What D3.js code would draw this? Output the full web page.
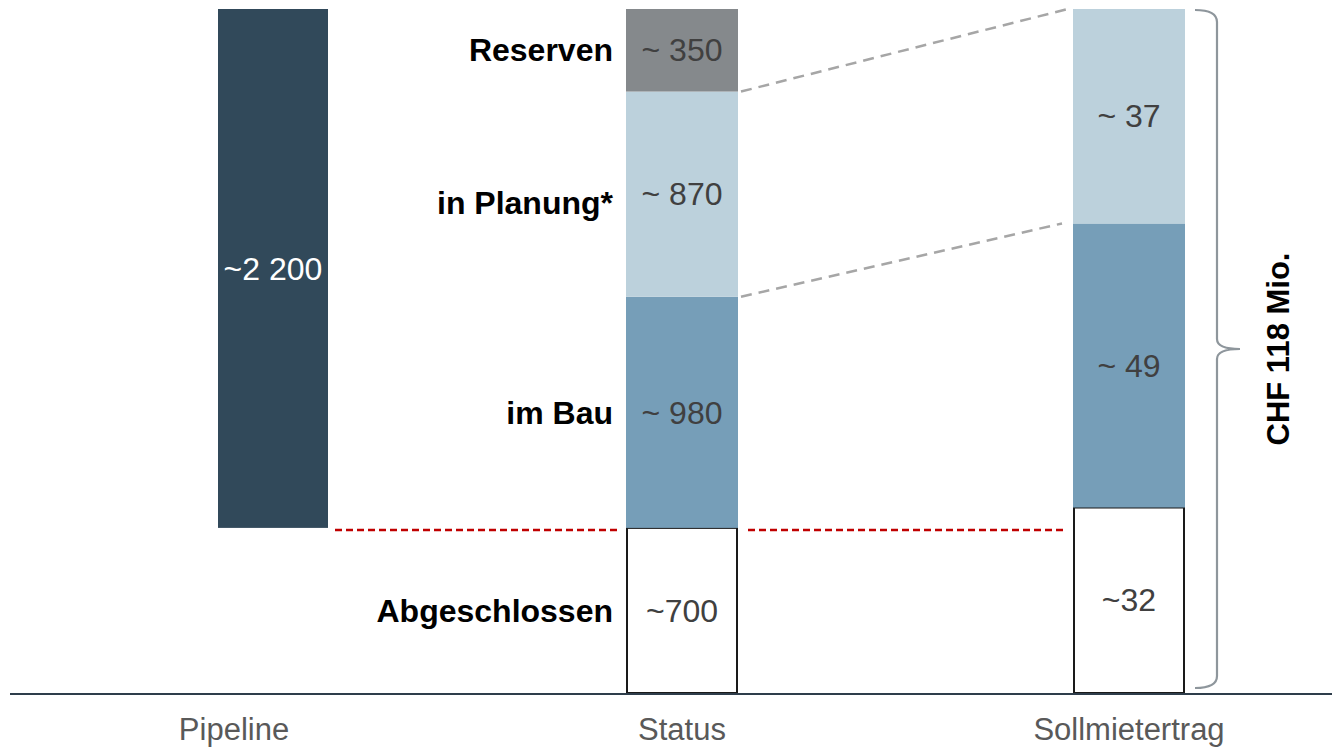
<!DOCTYPE html>
<html>
<head>
<meta charset="utf-8">
<script src="https://cdn.jsdelivr.net/npm/d3@7"></script>
<style>
  html, body { margin: 0; padding: 0; background: #fff; }
  svg { display: block; font-family: "Liberation Sans", Arial, sans-serif; }
</style>
</head>
<body>
<svg id="chart" width="1332" height="748"></svg>
<script>
// Column categories along the bottom
const categories = ["Pipeline", "Status", "Sollmietertrag"];

// Pipeline total (units)
const pipelineTotal = 2200;
const pipelineLabel = "~2 200";

// Status breakdown, bottom to top (units)
const statusNames  = ["Abgeschlossen", "im Bau", "in Planung*", "Reserven"];
const statusValues = [700, 980, 870, 350];
const statusLabels = ["~700", "~ 980", "~ 870", "~ 350"];

// Target rental income, bottom to top (CHF Mio.)
const rentValues = [32, 49, 37];
const rentLabels = ["~32", "~ 49", "~ 37"];
const rentTotalLabel = "CHF 118 Mio.";

// Colours per status segment
const statusFill = ["#ffffff", "#769eb8", "#bcd1dc", "#85898c"];
const rentFill   = ["#ffffff", "#769eb8", "#bcd1dc"];

const svg = d3.select("#chart");
const W = 1332, H = 748;
const baseY = 693, topY = 9;
const barW = 112;

// Horizontal placement of the three columns and their captions
const xBar = d3.scaleOrdinal().domain(categories).range([273, 682, 1129]);
const xCap = d3.scaleOrdinal().domain(categories).range([234, 682, 1129]);

// Vertical scales: status/pipeline in units, rent in CHF Mio.
const statusTotal = d3.sum(statusValues);
const rentTotal = d3.sum(rentValues);
const yS = d3.scaleLinear().domain([0, statusTotal]).range([baseY, topY]);
const yR = d3.scaleLinear().domain([0, rentTotal]).range([baseY, topY]);

// Stack helpers
function stack(values) {
  let acc = 0;
  return values.map((v, i) => { const s = { i, v, y0: acc, y1: acc + v }; acc += v; return s; });
}
const sStack = stack(statusValues);
const rStack = stack(rentValues);

// Pipeline bar: sits on top of the completed volume, reaching the full total
const completed = statusValues[0];
const pipeG = svg.append("g");
pipeG.append("rect")
  .attr("x", xBar("Pipeline") - barW / 2 + 1)
  .attr("width", barW - 2)
  .attr("y", yS(completed + pipelineTotal))
  .attr("height", yS(completed) - yS(completed + pipelineTotal))
  .attr("fill", "#31495a");
pipeG.append("text")
  .attr("x", xBar("Pipeline"))
  .attr("y", (yS(completed) + yS(completed + pipelineTotal)) / 2)
  .attr("dy", "0.35em")
  .attr("text-anchor", "middle")
  .attr("font-size", 32)
  .attr("fill", "#ffffff")
  .text(pipelineLabel);

// Connector lines between status and rent columns
const xsR = xBar("Status") + barW / 2;
const xrL = xBar("Sollmietertrag") - barW / 2;
const planTop = sStack[2].y1, planBot = sStack[2].y0;
svg.append("line")
  .attr("x1", xsR + 3).attr("y1", yS(planTop))
  .attr("x2", xrL - 5).attr("y2", yR(rStack[2].y1))
  .attr("stroke", "#a6a6a6").attr("stroke-width", 2.5).attr("stroke-dasharray", "11,7");
svg.append("line")
  .attr("x1", xsR + 3).attr("y1", yS(planBot))
  .attr("x2", xrL - 11).attr("y2", yR(rStack[2].y0))
  .attr("stroke", "#a6a6a6").attr("stroke-width", 2.5).attr("stroke-dasharray", "11,7");

// Red dashed reference at the completed level
const redY = yS(completed) + 2;
[[xBar("Pipeline") + barW / 2 + 6, xBar("Status") - barW / 2 - 6],
 [xsR + 10, xrL - 9]].forEach(([a, b]) => {
  svg.append("line")
    .attr("x1", a).attr("x2", b).attr("y1", redY).attr("y2", redY)
    .attr("stroke", "#c00000").attr("stroke-width", 2.5).attr("stroke-dasharray", "7,4");
});

// Status stacked bar
const sG = svg.append("g");
sG.selectAll("rect").data(sStack).join("rect")
  .attr("x", d => xBar("Status") - barW / 2 + (d.i === 0 ? 1 : 0))
  .attr("width", d => barW - (d.i === 0 ? 2 : 0))
  .attr("y", d => yS(d.y1))
  .attr("height", d => yS(d.y0) - yS(d.y1))
  .attr("fill", d => statusFill[d.i])
  .attr("stroke", d => d.i === 0 ? "#1a1a1a" : "none")
  .attr("stroke-width", 2);
sG.selectAll("text.val").data(sStack).join("text")
  .attr("class", "val")
  .attr("x", xBar("Status"))
  .attr("y", d => (yS(d.y0) + yS(d.y1)) / 2)
  .attr("dy", "0.35em")
  .attr("text-anchor", "middle")
  .attr("font-size", 32)
  .attr("fill", "#404040")
  .text(d => statusLabels[d.i]);
sG.selectAll("text.name").data(sStack).join("text")
  .attr("class", "name")
  .attr("x", xBar("Status") - barW / 2 - 13)
  .attr("y", d => (yS(d.y0) + yS(d.y1)) / 2 + (d.i === 2 ? 9 : 0))
  .attr("dy", "0.35em")
  .attr("text-anchor", "end")
  .attr("font-size", 32)
  .attr("font-weight", "bold")
  .attr("fill", "#000")
  .text(d => statusNames[d.i]);

// Rent stacked bar
const rG = svg.append("g");
rG.selectAll("rect").data(rStack).join("rect")
  .attr("x", d => xBar("Sollmietertrag") - barW / 2 + (d.i === 0 ? 1 : 0))
  .attr("width", d => barW - (d.i === 0 ? 2 : 0))
  .attr("y", d => yR(d.y1))
  .attr("height", d => yR(d.y0) - yR(d.y1))
  .attr("fill", d => rentFill[d.i])
  .attr("stroke", d => d.i === 0 ? "#1a1a1a" : "none")
  .attr("stroke-width", 2);
rG.selectAll("text").data(rStack).join("text")
  .attr("x", xBar("Sollmietertrag"))
  .attr("y", d => (yR(d.y0) + yR(d.y1)) / 2)
  .attr("dy", "0.35em")
  .attr("text-anchor", "middle")
  .attr("font-size", 32)
  .attr("fill", "#404040")
  .text(d => rentLabels[d.i]);

// Curly brace spanning the rent total
const bx0 = xBar("Sollmietertrag") + barW / 2 + 10;
const bx1 = bx0 + 22;
const bTip = bx0 + 45;
const bTop = yR(rentTotal) + 1, bBot = yR(0) - 5;
const bMid = (bTop + bBot) / 2;
const brace = d3.path();
brace.moveTo(bx0, bTop);
brace.quadraticCurveTo(bx1, bTop, bx1, bTop + 12);
brace.lineTo(bx1, bMid - 10);
brace.quadraticCurveTo(bx1, bMid, bTip, bMid);
brace.quadraticCurveTo(bx1, bMid, bx1, bMid + 10);
brace.lineTo(bx1, bBot - 12);
brace.quadraticCurveTo(bx1, bBot, bx0, bBot);
svg.append("path")
  .attr("d", brace.toString())
  .attr("fill", "none")
  .attr("stroke", "#8e969c")
  .attr("stroke-width", 2.2);
svg.append("text")
  .attr("transform", `translate(${bTip + 49},${bMid}) rotate(-90)`)
  .attr("text-anchor", "middle")
  .attr("font-size", 31)
  .attr("font-weight", "bold")
  .attr("fill", "#000")
  .text(rentTotalLabel);

// Baseline
svg.append("line")
  .attr("x1", 10).attr("x2", W)
  .attr("y1", baseY + 1).attr("y2", baseY + 1)
  .attr("stroke", "#2e3d4b").attr("stroke-width", 2);

// Column captions
svg.selectAll("text.cap").data(categories).join("text")
  .attr("class", "cap")
  .attr("x", d => xCap(d))
  .attr("y", 740)
  .attr("text-anchor", "middle")
  .attr("font-size", 31)
  .attr("fill", "#595959")
  .text(d => d);
</script>
</body>
</html>
